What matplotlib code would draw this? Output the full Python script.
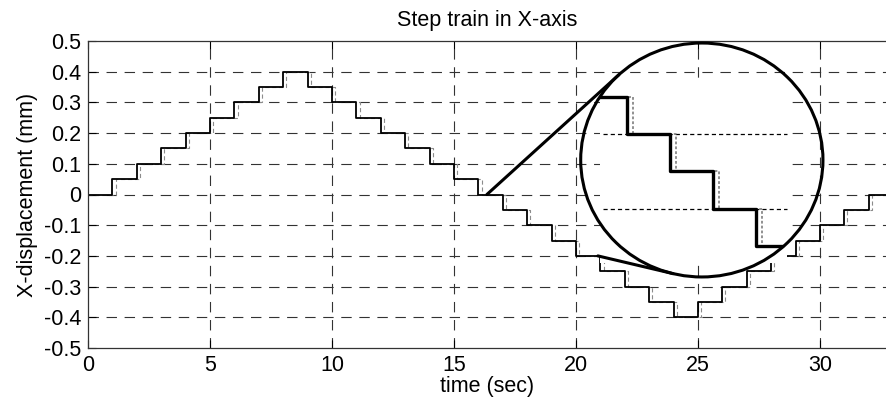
import numpy as np
import matplotlib
matplotlib.use('Agg')
import matplotlib.pyplot as plt
from matplotlib.patches import Ellipse, Rectangle

plt.rcParams['font.family'] = ['Liberation Sans', 'DejaVu Sans']
plt.rcParams['lines.scale_dashes'] = False

# step train: level held from each start time (sec) to the next
step_start = [0, 1, 2, 3, 4, 5, 6, 7, 8, 9, 10, 11, 12, 13, 14, 15, 16,
              17, 18, 19, 20, 21, 22, 23, 24, 25, 26, 27, 28, 29, 30, 31, 32, 33]
step_level = [0, 0.05, 0.1, 0.15, 0.2, 0.25, 0.3, 0.35, 0.4, 0.35, 0.3, 0.25,
              0.2, 0.15, 0.1, 0.05, 0, -0.05, -0.1, -0.15, -0.2, -0.25, -0.3,
              -0.35, -0.4, -0.35, -0.3, -0.25, -0.2, -0.15, -0.1, -0.05, 0, 0]
lag = 0.13          # delay of the measured response (sec)

xticks = [0, 5, 10, 15, 20, 25, 30]
yticks = [-0.5, -0.4, -0.3, -0.2, -0.1, 0, 0.1, 0.2, 0.3, 0.4, 0.5]
ytick_labels = ['-0.5', '-0.4', '-0.3', '-0.2', '-0.1', '0',
                '0.1', '0.2', '0.3', '0.4', '0.5']

# zoomed window and where it is drawn
win_t = (16.35, 20.9)
mag_t0, mag_tscale = 22.09, 1.763     # t' = mag_t0 + mag_tscale*(t - 17)
mag_y0, mag_yscale = 0.3186, 2.434    # y' = mag_y0 + mag_yscale*y
mag_grid = [-0.05, -0.15]
circ_c, circ_w, circ_h = (25.16, 0.1124), 9.93, 0.762

t_ref = np.array(step_start, dtype=float)
y_ref = np.array(step_level)
t_meas = t_ref + lag
t_meas[0] = 0

fig = plt.figure(figsize=(8.87, 3.99), dpi=100)
ax = fig.add_axes([88/887, 51/399, 799/887, 307/399])

grid_ls = (0, (7.5, 5.5))
for x in xticks[1:]:
    ax.axvline(x, color='0.2', lw=0.8, ls=grid_ls, zorder=1)
for y in yticks[1:-1]:
    ax.axhline(y, color='0.2', lw=0.8, ls=grid_ls, zorder=1)

ax.step(t_meas, y_ref, where='post', color='0.55', lw=0.8, ls=(0, (3, 2)), zorder=2)
ax.step(t_ref, y_ref, where='post', color='black', lw=1.3, zorder=2.5)

ax.set_xlim(0, 32.75)
ax.set_ylim(-0.5, 0.5)
ax.set_xticks(xticks)
ax.set_yticks(yticks)
ax.set_yticklabels(ytick_labels)
ax.tick_params(direction='in', length=6, width=0.8, labelsize=15.5, top=True,
               pad=5, colors='black')
ax.spines['right'].set_visible(False)
for s in ['left', 'bottom', 'top']:
    ax.spines[s].set_linewidth(0.9)
    ax.spines[s].set_color('0.2')

ax.set_title('Step train in X-axis', fontsize=15.5, pad=11)
ax.set_xlabel('time (sec)', fontsize=15.5, labelpad=0)
ax.set_ylabel('X-displacement (mm)', fontsize=15.5, labelpad=4)

# magnified view
ax.add_patch(Rectangle((20.98, -0.223), 28.65 - 20.98, 0.363 + 0.223,
                       facecolor='white', edgecolor='none', zorder=3))
circle = Ellipse(circ_c, circ_w, circ_h, facecolor='none', edgecolor='black',
                 lw=2.2, zorder=6)
ax.add_patch(circle)


def magnify(t, y):
    return mag_t0 + mag_tscale * (np.asarray(t) - 17), mag_y0 + mag_yscale * np.asarray(y)


def window(t, y):
    keep = (t > win_t[0]) & (t < win_t[1])
    tt = np.concatenate([[win_t[0]], t[keep], [win_t[1]]])
    i0 = np.searchsorted(t, win_t[0], side='right') - 1
    yy = np.concatenate([[y[i0]], y[keep], [y[keep][-1]]])
    return tt, yy


for gy in mag_grid:
    _, yg = magnify(0, gy)
    ax.plot([21.1, 28.65], [yg, yg], color='black', lw=0.9, ls=(0, (3, 2.2)), zorder=3.5)

tm, ym = window(t_meas, y_ref)
mx, my = magnify(tm, ym)
l1, = ax.step(mx, my, where='post', color='0.45', lw=1.1, ls=(0, (2, 1.5)), zorder=4)
tr, yr = window(t_ref, y_ref)
mx, my = magnify(tr, yr)
l2, = ax.step(mx, my, where='post', color='black', lw=2.4, zorder=4.5)
l1.set_clip_path(circle)
l2.set_clip_path(circle)

# tangent lines from the zoomed window to the circle
src = [(win_t[0], 0.0), (win_t[1], -0.2)]
tr_data = ax.transData
c_disp = tr_data.transform(circ_c)
edge = tr_data.transform((circ_c[0] + circ_w / 2, circ_c[1] + circ_h / 2))
rx, ry = edge - c_disp
for k, p in enumerate(src):
    pd = tr_data.transform(p)
    v = (pd - c_disp) / np.array([1, ry / rx])
    d = np.hypot(*v)
    a = np.arccos(rx / d)
    base = np.arctan2(v[1], v[0])
    cands = []
    for sgn in (1, -1):
        ang = base + sgn * a
        q = np.array([np.cos(ang), np.sin(ang) * ry / rx]) * rx + c_disp
        cands.append(q)
    q = max(cands, key=lambda z: z[1]) if k == 0 else min(cands, key=lambda z: z[1])
    qd = tr_data.inverted().transform(q)
    ax.plot([p[0], qd[0]], [p[1], qd[1]], color='black', lw=2.2, zorder=6,
            solid_capstyle='round')

fig.savefig('out.png', dpi=100)
